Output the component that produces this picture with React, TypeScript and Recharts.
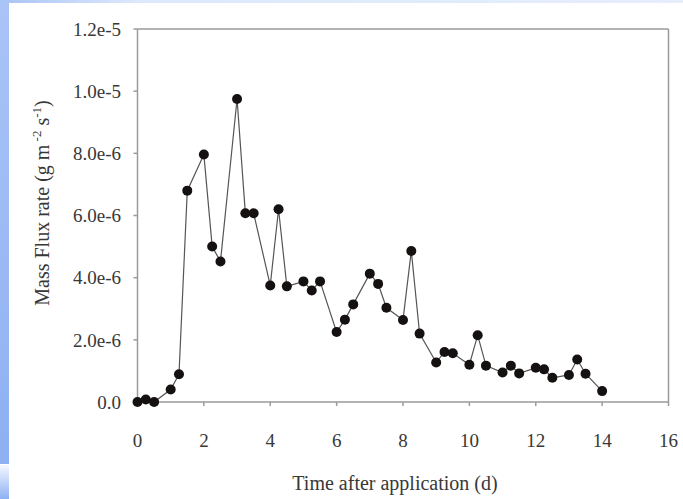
import { LineChart, Line, XAxis, YAxis, ReferenceLine } from 'recharts';

const days = [
  0, 0.25, 0.5, 1, 1.25, 1.5, 2, 2.25, 2.5, 3, 3.25, 3.5, 4, 4.25, 4.5, 5, 5.25, 5.5, 6, 6.25, 6.5,
  7, 7.25, 7.5, 8, 8.25, 8.5, 9, 9.25, 9.5, 10, 10.25, 10.5, 11, 11.25, 11.5, 12, 12.25, 12.5, 13,
  13.25, 13.5, 14,
];
const flux = [
  0, 0.08e-6, 0, 0.4e-6, 0.89e-6, 6.8e-6, 7.96e-6, 5.0e-6, 4.52e-6, 9.75e-6, 6.07e-6, 6.07e-6,
  3.75e-6, 6.2e-6, 3.72e-6, 3.88e-6, 3.59e-6, 3.88e-6, 2.25e-6, 2.65e-6, 3.14e-6, 4.13e-6, 3.8e-6,
  3.03e-6, 2.64e-6, 4.86e-6, 2.2e-6, 1.27e-6, 1.61e-6, 1.57e-6, 1.2e-6, 2.15e-6, 1.17e-6, 0.95e-6,
  1.17e-6, 0.92e-6, 1.1e-6, 1.05e-6, 0.78e-6, 0.87e-6, 1.37e-6, 0.91e-6, 0.35e-6,
];
const xTicks = [0, 2, 4, 6, 8, 10, 12, 14, 16];
const yTicks = [0, 2e-6, 4e-6, 6e-6, 8e-6, 1e-5, 1.2e-5];

const data = days.map((t, i) => ({ t, v: flux[i] }));

const FONT = '"Liberation Serif", "Times New Roman", serif';
const TEXT = '#383838';
const AXIS = '#9a9a9a';

const fmtY = (v: number) => (v === 0 ? '0.0' : v.toExponential(1));

// axis titles drawn by hand so the superscripts and the slightly off-centre x title fit
function YTitle() {
  const cx = 49;
  const cy = 203;
  return (
    <text
      x={cx}
      y={cy}
      transform={`rotate(-90, ${cx}, ${cy})`}
      textAnchor="middle"
      fontFamily={FONT}
      fontSize={20}
      fill={TEXT}
    >
      Mass Flux rate (g m
      <tspan dy={-8} fontSize={13}> -2</tspan>
      <tspan dy={8}> s</tspan>
      <tspan dy={-8} fontSize={13}>-1</tspan>
      <tspan dy={8}>)</tspan>
    </text>
  );
}

function XTitle() {
  return (
    <text x={395} y={490} textAnchor="middle" fontFamily={FONT} fontSize={20} fill={TEXT}>
      Time after application (d)
    </text>
  );
}

export default function App() {
  return (
    <div style={{ position: 'absolute', left: 0, top: 0, width: 683, height: 499, background: '#fff', overflow: 'hidden' }}>
      <div style={{ position: 'absolute', left: 0, top: 0, width: 683, height: 3, background: 'linear-gradient(to right, #a9c3f6, #dde8fb 20%, #e6eefc)' }} />
      <div style={{ position: 'absolute', left: 0, top: 0, width: 9, height: 464, background: 'linear-gradient(to bottom, #aac4f7, #8eb0f2)' }} />
      <div style={{ position: 'absolute', left: 0, top: 465, width: 9, height: 34, background: 'linear-gradient(to bottom, #f4f7fe, #8eb0f2)' }} />
      <div style={{ position: 'absolute', left: 0, top: 0 }}>
        <LineChart width={683} height={499} data={data} margin={{ top: 29, right: 14.5, bottom: 0, left: 57.5 }}>
          <XAxis
            dataKey="t"
            type="number"
            domain={[0, 16]}
            ticks={xTicks}
            height={97}
            stroke={AXIS}
            strokeWidth={1.5}
            tickSize={4}
            tickMargin={27.5}
            tick={{ fill: TEXT, fontFamily: FONT, fontSize: 19 }}
            label={<XTitle />}
          />
          <YAxis
            type="number"
            domain={[0, 1.2e-5]}
            ticks={yTicks}
            width={80}
            stroke={AXIS}
            strokeWidth={1.5}
            tickSize={4}
            tickMargin={12.5}
            tickFormatter={fmtY}
            tick={{ fill: TEXT, fontFamily: FONT, fontSize: 19 }}
            label={<YTitle />}
          />
          <ReferenceLine y={1.2e-5} stroke={AXIS} strokeWidth={1.5} />
          <ReferenceLine x={16} stroke={AXIS} strokeWidth={1.5} />
          <Line
            dataKey="v"
            type="linear"
            stroke="#555"
            strokeWidth={1.2}
            dot={{ r: 5, fill: '#151111', stroke: '#151111', strokeWidth: 0 }}
            isAnimationActive={false}
          />
        </LineChart>
      </div>
    </div>
  );
}
